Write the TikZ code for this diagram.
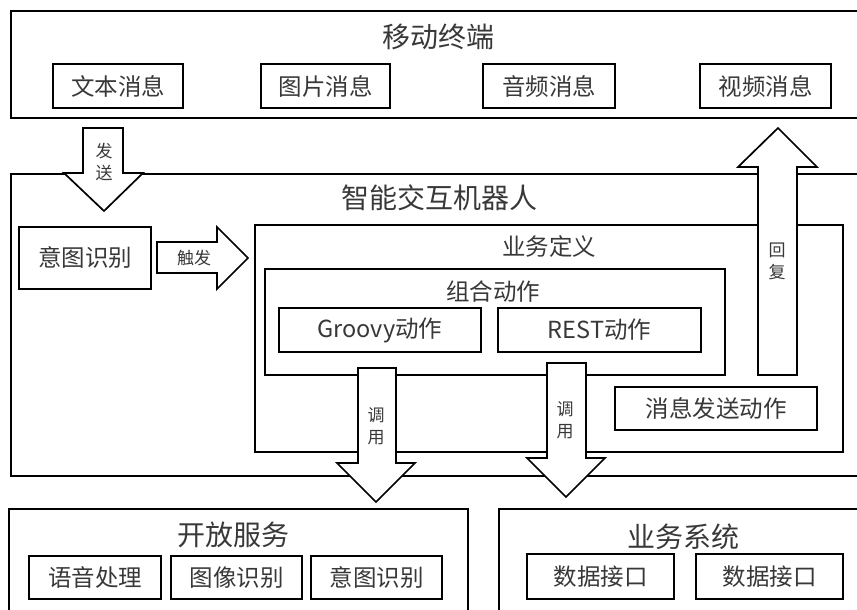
\documentclass[tikz,border=0pt]{standalone}
\usepackage{fontspec}
\newfontfamily\cjk{Noto Sans CJK SC}
\begin{document}
\begin{tikzpicture}[x=1pt,y=-1pt,
  frame/.style={draw=black,line width=1.7pt},
  box/.style={draw=black,line width=1.7pt,inner sep=0pt,font=\cjk\fontsize{23.5}{26}\selectfont,text=black!78},
  ttl/.style={inner sep=0pt,font=\cjk\fontsize{28}{30}\selectfont,text=black!78},
  sttl/.style={inner sep=0pt,font=\cjk\fontsize{23.5}{26}\selectfont,text=black!78},
  blk/.style={draw=black,line width=1.7pt,fill=white,line join=miter},
  lbl/.style={inner sep=0pt,align=center,font=\cjk\fontsize{17}{22}\selectfont,text=black!78}]
\useasboundingbox (0,0) rectangle (857,610);
\clip (0,0) rectangle (857,610);
% outer frames
\draw[frame] (870,11) -- (11,11) -- (11,118) -- (870,118);
\node[ttl] (tmob) at (438,37) {移动终端};
\draw[frame] (870,174) -- (11,174) -- (11,476) -- (870,476);
\node[ttl] (trob) at (439,198) {智能交互机器人};
\draw[frame] (468,620) -- (9,620) -- (9,509) -- (468,509) -- cycle;
\node[ttl] (topen) at (233,535) {开放服务};
\draw[frame] (499,620) -- (499,509) -- (870,509);
\node[ttl] (tbiz) at (683,537) {业务系统};
% terminal messages
\node[box,minimum width=130pt,minimum height=44pt] (txt) at (118,86) {文本消息};
\node[box,minimum width=129pt,minimum height=44pt] (pic) at (325.5,86) {图片消息};
\node[box,minimum width=132pt,minimum height=44pt] (aud) at (549,86) {音频消息};
\node[box,minimum width=131pt,minimum height=44pt] (vid) at (765.5,86) {视频消息};
% robot
\node[box,minimum width=132pt,minimum height=62pt] (intent) at (85,258) {意图识别};
\draw[frame] (255,225) rectangle (843,452);
\node[sttl] (tdef) at (549,247) {业务定义};
\draw[frame] (265,269) rectangle (725,375);
\node[sttl] (tcomb) at (493,292) {组合动作};
\node[box,minimum width=202pt,minimum height=44pt] (groovy) at (380,330) {Groovy动作};
\node[box,minimum width=203pt,minimum height=44pt] (rest) at (599.5,330) {REST动作};
\node[box,minimum width=202pt,minimum height=43pt] (msg) at (716,408.5) {消息发送动作};
% services
\node[box,minimum width=132pt,minimum height=43pt] (voice) at (95,577.5) {语音处理};
\node[box,minimum width=131pt,minimum height=43pt] (img) at (236.5,577.5) {图像识别};
\node[box,minimum width=131pt,minimum height=43pt] (int2) at (376.5,577.5) {意图识别};
\node[box,minimum width=147pt,minimum height=45pt] (data1) at (600.5,576.5) {数据接口};
\node[box,minimum width=147pt,minimum height=45pt] (data2) at (769.5,576.5) {数据接口};
% block arrows
\draw[blk] (83,128) -- (123,128) -- (123,173) -- (143,173) -- (104,211) -- (64,173) -- (83,173) -- cycle;
\node[lbl] (lsend) at (104,162) {发\\送};
\draw[blk] (157,242) -- (217,242) -- (217,227) -- (248,258) -- (217,289) -- (217,273) -- (157,273) -- cycle;
\node[lbl] (ltrig) at (194,258) {触发};
\draw[blk] (758,375) -- (797,375) -- (797,167) -- (817,167) -- (778,128) -- (738,167) -- (758,167) -- cycle;
\node[lbl] (lreply) at (777,261) {回\\复};
\draw[blk] (358,368) -- (396,368) -- (396,463) -- (415,463) -- (376,502) -- (337,463) -- (358,463) -- cycle;
\node[lbl] (lcall1) at (376,426) {调\\用};
\draw[blk] (547,363) -- (586,363) -- (586,458) -- (605,458) -- (566,497) -- (527,458) -- (547,458) -- cycle;
\node[lbl] (lcall2) at (565,420) {调\\用};
\end{tikzpicture}
\end{document}
